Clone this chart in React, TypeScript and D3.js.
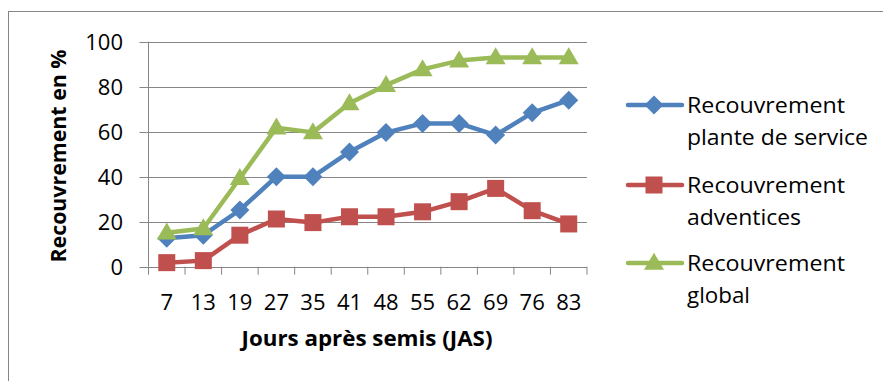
import React from "react";
import * as d3 from "d3";

const days = ["7", "13", "19", "27", "35", "41", "48", "55", "62", "69", "76", "83"];
const plante = [12.6, 14, 25.2, 40, 40, 51, 59.6, 63.7, 63.7, 58.5, 68.4, 74];
const adventices = [1.8, 2.7, 14, 21.2, 19.6, 22.2, 22.2, 24.4, 28.9, 34.8, 24.9, 19];
const global = [15.1, 17, 39.3, 61.8, 59.7, 72.6, 80.7, 87.7, 91.6, 93, 93, 93];
const yTicks = [0, 20, 40, 60, 80, 100];

const seriesList = [
  { name: ["Recouvrement", "plante de service"], values: plante, color: "#4F81BD", marker: "diamond" },
  { name: ["Recouvrement", "adventices"], values: adventices, color: "#C0504D", marker: "square" },
  { name: ["Recouvrement", "global"], values: global, color: "#9BBB59", marker: "triangle" },
];

// horizontal extent of each legend line of text
const legendWidths = [
  [158, 181],
  [158, 114],
  [158, 63],
];

const FONT = "'Open Sans', 'Liberation Sans', sans-serif";

function Marker({ kind, cx, cy, color }: { kind: string; cx: number; cy: number; color: string }) {
  if (kind === "diamond") {
    const r = 9.5;
    return <path d={`M${cx},${cy - r}L${cx + r},${cy}L${cx},${cy + r}L${cx - r},${cy}Z`} fill={color} />;
  }
  if (kind === "square") {
    const s = 17;
    return <rect x={cx - s / 2} y={cy - s / 2} width={s} height={s} fill={color} />;
  }
  const h = 17;
  const w = 20;
  return <path d={`M${cx},${cy - h * 0.6}L${cx + w / 2},${cy + h * 0.4}L${cx - w / 2},${cy + h * 0.4}Z`} fill={color} />;
}

export default function App() {
  const width = 883;
  const height = 381;
  const left = 148.5;
  const right = 587;
  const top = 41.7;
  const bottom = 266.7;

  const x = d3.scaleBand<string>().domain(days).range([left, right]);
  const y = d3.scaleLinear().domain([0, 100]).range([bottom, top]);
  const cx = (d: string) => (x(d) as number) + x.bandwidth() / 2;

  const line = d3
    .line<number>()
    .x((_, i) => cx(days[i]))
    .y((v) => y(v));

  const boundaries = days.map((d) => x(d) as number).concat([right]);

  return (
    <svg width={width} height={height} style={{ position: "absolute", left: 0, top: 0 }}>
      <rect x={0} y={0} width={width} height={height} fill="#fff" />
      <rect x={8.5} y={11.5} width={width + 10} height={height + 10} fill="none" stroke="#868686" strokeWidth={1} />

      {yTicks.map((t) => (
        <g key={t}>
          <line x1={left - 9} x2={right} y1={Math.round(y(t)) + 0.5} y2={Math.round(y(t)) + 0.5} stroke="#868686" strokeWidth={1} />
          <text x={123} y={y(t)} dy="0.36em" textAnchor="end" fontFamily={FONT} fontSize={22} fill="#000">
            {t}
          </text>
        </g>
      ))}
      <line x1={left} x2={left} y1={top} y2={bottom} stroke="#868686" strokeWidth={1} />
      {boundaries.map((b, i) => (
        <line key={i} x1={b} x2={b} y1={bottom} y2={bottom + 8} stroke="#868686" strokeWidth={1} />
      ))}
      {days.map((d) => (
        <text key={d} x={cx(d)} y={310} textAnchor="middle" fontFamily={FONT} fontSize={22} fill="#000">
          {d}
        </text>
      ))}

      <text
        transform={`translate(66,156) rotate(-90)`}
        textAnchor="middle"
        fontFamily={FONT}
        fontWeight="bold"
        fontSize={22}
        textLength={213}
        lengthAdjust="spacingAndGlyphs"
        fill="#000"
      >
        Recouvrement en %
      </text>
      <text
        x={367}
        y={346}
        textAnchor="middle"
        fontFamily={FONT}
        fontWeight="bold"
        fontSize={22}
        textLength={251}
        lengthAdjust="spacingAndGlyphs"
        fill="#000"
      >
        Jours après semis (JAS)
      </text>

      {seriesList.map((s) => (
        <g key={s.color}>
          <path d={line(s.values) as string} fill="none" stroke={s.color} strokeWidth={4.5} strokeLinejoin="round" strokeLinecap="round" />
          {s.values.map((v, i) => (
            <Marker key={i} kind={s.marker} cx={cx(days[i])} cy={y(v)} color={s.color} />
          ))}
        </g>
      ))}

      {seriesList.map((s, i) => {
        const ly = [105, 185, 263][i];
        return (
          <g key={s.color}>
            <line x1={628} x2={682} y1={ly} y2={ly} stroke={s.color} strokeWidth={4.5} strokeLinecap="round" />
            <Marker kind={s.marker} cx={654} cy={ly} color={s.color} />
            <text x={687} y={ly + 8} fontFamily={FONT} fontSize={22.5} textLength={legendWidths[i][0]} lengthAdjust="spacingAndGlyphs" fill="#000">
              {s.name[0]}
            </text>
            <text x={687} y={ly + 40} fontFamily={FONT} fontSize={22.5} textLength={legendWidths[i][1]} lengthAdjust="spacingAndGlyphs" fill="#000">
              {s.name[1]}
            </text>
          </g>
        );
      })}
    </svg>
  );
}
